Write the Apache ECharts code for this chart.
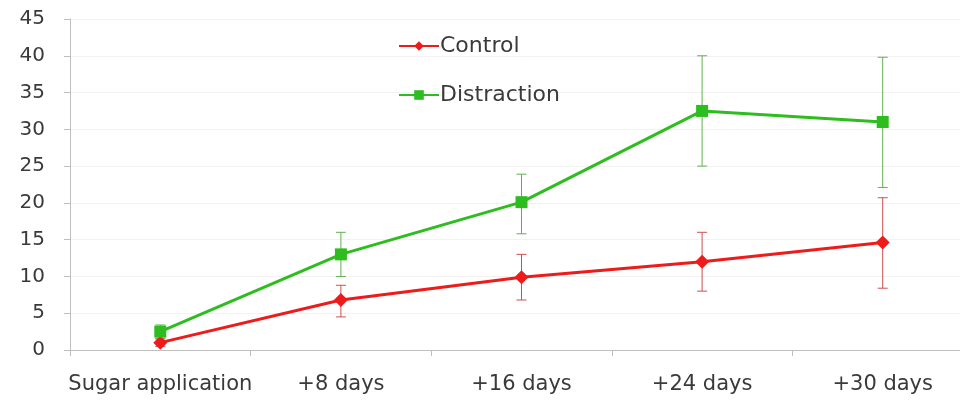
<!DOCTYPE html>
<html><head><meta charset="utf-8">
<script src="https://cdn.jsdelivr.net/npm/echarts@6/dist/echarts.min.js"></script>
<style>html,body{margin:0;padding:0;background:#fff;overflow:hidden;width:960px;height:403px}#c{width:973px;height:403px}</style>
</head><body><div id="c"></div>
<script>
const categories = ['Sugar application', '+8 days', '+16 days', '+24 days', '+30 days'];
const control = [1.0, 6.8, 9.9, 12.0, 14.6];
const controlLow = [0.5, 4.5, 6.8, 8.0, 8.4];
const controlHigh = [1.5, 8.8, 13.0, 16.0, 20.7];
const distraction = [2.5, 13.0, 20.1, 32.5, 31.0];
const distractionLow = [1.6, 10.0, 15.8, 25.0, 22.1];
const distractionHigh = [3.4, 16.0, 23.9, 40.0, 39.8];
const yTicks = [0, 5, 10, 15, 20, 25, 30, 35, 40, 45];

const font = '"DejaVu Sans", "Open Sans", sans-serif';
const textColor = '#3a3a3a';

function errorSeries(low, high, color) {
  return {
    type: 'custom',
    silent: true,
    z: 1,
    data: categories.map((c, i) => [i, low[i], high[i]]),
    renderItem: function (params, api) {
      const x = api.value(0);
      const p1 = api.coord([x, api.value(1)]);
      const p2 = api.coord([x, api.value(2)]);
      const w = 5;
      const style = { stroke: color, lineWidth: 1 };
      return {
        type: 'group',
        children: [
          { type: 'line', shape: { x1: p1[0], y1: p1[1], x2: p2[0], y2: p2[1] }, style },
          { type: 'line', shape: { x1: p1[0] - w, y1: p1[1], x2: p1[0] + w, y2: p1[1] }, style },
          { type: 'line', shape: { x1: p2[0] - w, y1: p2[1], x2: p2[0] + w, y2: p2[1] }, style }
        ]
      };
    }
  };
}

const chart = echarts.init(document.getElementById('c'), null, { renderer: 'canvas' });
chart.setOption({
  animation: false,
  backgroundColor: '#fff',
  grid: { left: 70, right: 0, top: 19, bottom: 53, containLabel: false },
  legend: {
    orient: 'vertical',
    left: 393,
    top: 30,
    itemGap: 27,
    itemWidth: 40,
    itemHeight: 12,
    textStyle: { fontFamily: font, fontSize: 22, color: textColor, padding: [0, 0, 0, -4] },
    data: ['Control', 'Distraction']
  },
  xAxis: {
    type: 'category',
    data: categories,
    boundaryGap: true,
    axisLine: { lineStyle: { color: '#bfbfbf', width: 1 } },
    axisTick: { show: true, length: 6, lineStyle: { color: '#bfbfbf' }, alignWithLabel: false },
    axisLabel: { fontFamily: font, fontSize: 21, color: textColor, margin: 24, interval: 0 },
    splitLine: { show: false }
  },
  yAxis: {
    type: 'value',
    min: 0, max: 45, interval: 5,
    axisLine: { show: true, lineStyle: { color: '#bfbfbf', width: 1 } },
    axisTick: { show: true, length: 6, lineStyle: { color: '#bfbfbf' } },
    axisLabel: {
      fontFamily: font, fontSize: 20, color: textColor, margin: 25,
      formatter: v => yTicks.includes(v) ? String(v) : ''
    },
    splitLine: { show: true, lineStyle: { color: '#f2f2f2', width: 1 } }
  },
  series: [
    errorSeries(controlLow, controlHigh, '#cc5050'),
    errorSeries(distractionLow, distractionHigh, '#60b050'),
    {
      name: 'Control', type: 'line', data: control, z: 3,
      symbol: 'diamond', symbolSize: 14,
      lineStyle: { color: '#ee1b1b', width: 3 },
      itemStyle: { color: '#ee1b1b' }
    },
    {
      name: 'Distraction', type: 'line', data: distraction, z: 3,
      symbol: 'rect', symbolSize: 12,
      lineStyle: { color: '#2ebd1e', width: 3 },
      itemStyle: { color: '#2ebd1e' }
    }
  ]
});
</script></body></html>
